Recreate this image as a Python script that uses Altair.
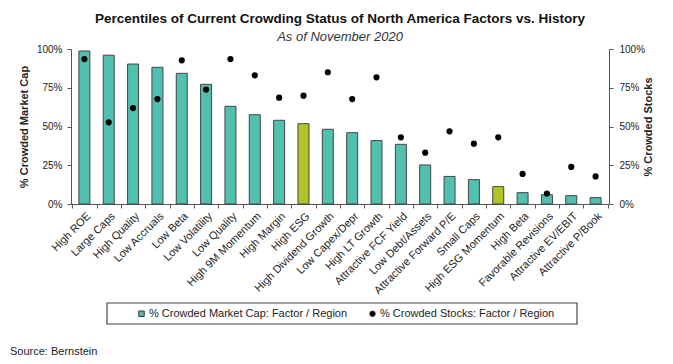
import altair as alt
import pandas as pd

factors = ["High ROE", "Large Caps", "High Quality", "Low Accruals", "Low Beta",
           "Low Volatility", "Low Quality", "High 9M Momentum", "High Margin", "High ESG",
           "High Dividend Growth", "Low Capex/Depr", "High LT Growth", "Attractive FCF Yield",
           "Low Debt/Assets", "Attractive Forward P/E", "Small Caps", "High ESG Momentum",
           "High Beta", "Favorable Revisions", "Attractive EV/EBIT", "Attractive P/Book"]
market_cap = [0.987, 0.96, 0.903, 0.882, 0.843, 0.772, 0.63, 0.576, 0.54, 0.518,
              0.482, 0.46, 0.409, 0.385, 0.252, 0.178, 0.157, 0.112,
              0.073, 0.06, 0.054, 0.041]
stocks = [0.935, 0.527, 0.619, 0.677, 0.927, 0.738, 0.935, 0.83, 0.686, 0.699,
          0.85, 0.677, 0.817, 0.43, 0.331, 0.469, 0.389, 0.43,
          0.194, 0.067, 0.239, 0.178]
highlight = ["High ESG", "High ESG Momentum"]
series_names = ["% Crowded Market Cap: Factor / Region", "% Crowded Stocks: Factor / Region"]

df = pd.DataFrame({"factor": factors, "mcap": market_cap, "stocks": stocks,
                   "series": series_names[1]})

TEAL = "#50C0AF"
OLIVE = "#B3C428"
FONT = "Liberation Sans"

x = alt.X("factor:N", sort=factors, title=None,
          scale=alt.Scale(paddingInner=0, paddingOuter=0.05),
          axis=alt.Axis(labelAngle=-45, labelFontSize=11, labelColor="#222",
                        tickBand="extent", tickSize=4, domainColor="#555",
                        tickColor="#555", labelPadding=2))

bars = alt.Chart(df).mark_bar(width=11, stroke="#444", strokeWidth=1).encode(
    x=x,
    y=alt.Y("mcap:Q", scale=alt.Scale(domain=[0, 1]),
            title="% Crowded Market Cap",
            axis=alt.Axis(format="%", values=[0, 0.25, 0.5, 0.75, 1], orient="left",
                          grid=False, tickSize=4, domainColor="#555", tickColor="#555",
                          labelFontSize=10, labelColor="#222", titleFontSize=11,
                          titleFontWeight="bold", titleColor="#222", titlePadding=7,
                          labelPadding=5)),
    fill=alt.condition(alt.FieldOneOfPredicate(field="factor", oneOf=highlight),
                       alt.value(OLIVE), alt.value(TEAL)),
)

points = alt.Chart(df).mark_point(filled=True, opacity=1, size=38).encode(
    x=x,
    y=alt.Y("stocks:Q", scale=alt.Scale(domain=[0, 1]),
            title="% Crowded Stocks",
            axis=alt.Axis(format="%", values=[0, 0.25, 0.5, 0.75, 1], orient="right",
                          grid=False, tickSize=4, domainColor="#555", tickColor="#555",
                          labelFontSize=10, labelColor="#222", titleFontSize=11,
                          titleFontWeight="bold", titleColor="#222", titleAngle=270,
                          titlePadding=9, labelPadding=6)),
    color=alt.Color("series:N",
                    scale=alt.Scale(domain=series_names, range=[TEAL, "black"]),
                    legend=alt.Legend(title=None, orient="none", legendX=65, legendY=259,
                                      direction="horizontal", padding=0,
                                      labelFontSize=11, labelColor="#222",
                                      columnPadding=19, symbolSize=30, labelOffset=2,
                                      symbolStrokeColor="#333", symbolStrokeWidth=1,
                                      labelLimit=300)),
    shape=alt.Shape("series:N",
                    scale=alt.Scale(domain=series_names, range=["square", "circle"]),
                    legend=None),
)

legend_box = alt.Chart(pd.DataFrame({"b": [1]})).mark_rect(
    fill="white", fillOpacity=0, stroke="#444", strokeWidth=1.2
).encode(x=alt.value(36), x2=alt.value(506), y=alt.value(254), y2=alt.value(275))

source = alt.Chart(pd.DataFrame({"t": ["Source: Bernstein"]})).mark_text(
    align="left", baseline="middle", fontSize=11, font=FONT, color="#222"
).encode(text="t:N", x=alt.value(-61), y=alt.value(303))

chart = alt.layer(bars, points, legend_box, source).resolve_scale(
    y="independent", color="independent", shape="independent"
).properties(
    width=538, height=155,
    autosize=alt.AutoSizeParams(type="none"),
    padding={"left": 63, "top": 41, "right": 56, "bottom": 152},
    title=alt.TitleParams("Percentiles of Current Crowding Status of North America Factors vs. History",
                          subtitle="As of November 2020", fontSize=13.5, fontWeight="bold",
                          subtitleFontSize=13, subtitleFontStyle="italic", subtitleColor="#333",
                          anchor="middle", offset=0, color="#111", subtitlePadding=6),
).configure(font=FONT).configure_view(stroke=None)

chart.save("out.html", embed_options={"renderer": "svg", "actions": False})
